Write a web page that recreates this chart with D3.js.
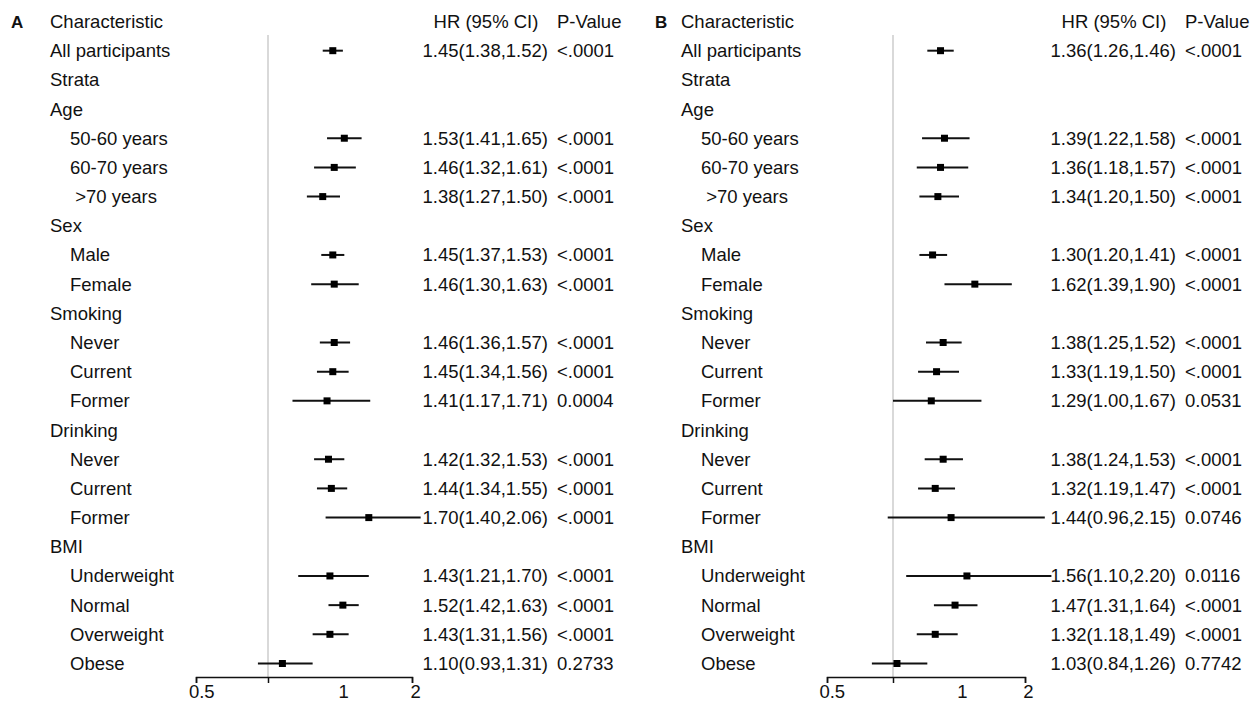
<!DOCTYPE html>
<html>
<head>
<meta charset="utf-8">
<script src="https://cdn.jsdelivr.net/npm/d3@7"></script>
<style>
  body { margin: 0; background: #fff; }
  text { font-family: "Liberation Sans", Arial, sans-serif; font-size: 18.5px; fill: #111; }
</style>
</head>
<body>
<script>
// rows of the table (row 0 is the header)
var rowLabels = ["Characteristic", "All participants", "Strata", "Age", "50-60 years", "60-70 years", " >70 years",
  "Sex", "Male", "Female", "Smoking", "Never", "Current", "Former",
  "Drinking", "Never", "Current", "Former", "BMI", "Underweight", "Normal", "Overweight", "Obese"];
var rowIndent = [0,0,0,0,1,1,1,0,1,1,0,1,1,1,0,1,1,1,0,1,1,1,1];

// panel A
var hrA   = [null,1.45,null,null,1.53,1.46,1.38,null,1.45,1.46,null,1.46,1.45,1.41,null,1.42,1.44,1.70,null,1.43,1.52,1.43,1.10];
var lowA  = [null,1.38,null,null,1.41,1.32,1.27,null,1.37,1.30,null,1.36,1.34,1.17,null,1.32,1.34,1.40,null,1.21,1.42,1.31,0.93];
var highA = [null,1.52,null,null,1.65,1.61,1.50,null,1.53,1.63,null,1.57,1.56,1.71,null,1.53,1.55,2.06,null,1.70,1.63,1.56,1.31];
var pA    = [null,"<.0001",null,null,"<.0001","<.0001","<.0001",null,"<.0001","<.0001",null,"<.0001","<.0001","0.0004",null,"<.0001","<.0001","<.0001",null,"<.0001","<.0001","<.0001","0.2733"];

// panel B
var hrB   = [null,1.36,null,null,1.39,1.36,1.34,null,1.30,1.62,null,1.38,1.33,1.29,null,1.38,1.32,1.44,null,1.56,1.47,1.32,1.03];
var lowB  = [null,1.26,null,null,1.22,1.18,1.20,null,1.20,1.39,null,1.25,1.19,1.00,null,1.24,1.19,0.96,null,1.10,1.31,1.18,0.84];
var highB = [null,1.46,null,null,1.58,1.57,1.50,null,1.41,1.90,null,1.52,1.50,1.67,null,1.53,1.47,2.15,null,2.20,1.64,1.49,1.26];
var pB    = [null,"<.0001",null,null,"<.0001","<.0001","<.0001",null,"<.0001","<.0001",null,"<.0001","<.0001","0.0531",null,"<.0001","<.0001","0.0746",null,"0.0116","<.0001","<.0001","0.7742"];

var tickValues = [0.5, 1, 2];
var tickLabels = ["0.5", "1", "2"];
var tickLabelAt = [0.54, 1.525, 2.025];   // where the original puts the labels

var width = 1256, height = 701;

var svg = d3.select("body").append("svg")
    .attr("width", width)
    .attr("height", height);

var y = d3.scalePoint()
    .domain(d3.range(rowLabels.length))
    .range([21.5, 663.5]);

var axisY = 677;

var fmt = d3.format(".2f");

var drawPanel = function(opt) {
  var g = svg.append("g");
  var x = d3.scaleLinear().domain([0.5, 2]).range(opt.range);

  g.append("text")
      .attr("x", opt.letterX)
      .attr("y", y(0) + 6.5)
      .style("font-weight", "bold")
      .style("font-size", "17px")
      .text(opt.letter);

  g.selectAll("text.label")
      .data(rowLabels)
    .enter().append("text")
      .attr("class", "label")
      .attr("x", function(d, i) { return opt.labelX + (rowIndent[i] ? 20 : 0); })
      .attr("y", function(d, i) { return y(i) + 6.5; })
      .style("white-space", "pre")
      .text(function(d) { return d; });

  // reference line at HR = 1
  g.append("line")
      .attr("x1", x(1)).attr("x2", x(1))
      .attr("y1", 35).attr("y2", axisY)
      .attr("stroke", "#cccccc")
      .attr("stroke-width", 1.5);

  var rows = d3.range(rowLabels.length).filter(function(i) { return opt.hr[i] != null; });

  g.selectAll("line.ci")
      .data(rows)
    .enter().append("line")
      .attr("class", "ci")
      .attr("x1", function(i) { return x(opt.low[i]); })
      .attr("x2", function(i) { return x(opt.high[i]); })
      .attr("y1", function(i) { return y(i); })
      .attr("y2", function(i) { return y(i); })
      .attr("stroke", "#111")
      .attr("stroke-width", 2);

  g.selectAll("rect.pt")
      .data(rows)
    .enter().append("rect")
      .attr("class", "pt")
      .attr("x", function(i) { return x(opt.hr[i]) - 3.5; })
      .attr("y", function(i) { return y(i) - 3.5; })
      .attr("width", 7)
      .attr("height", 7)
      .attr("fill", "#000");

  g.append("text")
      .attr("x", opt.hrEnd - 62)
      .attr("y", y(0) + 6.5)
      .attr("text-anchor", "middle")
      .text("HR (95% CI)");
  g.append("text")
      .attr("x", opt.pX)
      .attr("y", y(0) + 6.5)
      .text("P-Value");

  g.selectAll("text.hr")
      .data(rows)
    .enter().append("text")
      .attr("class", "hr")
      .attr("x", opt.hrEnd)
      .attr("y", function(i) { return y(i) + 6.5; })
      .attr("text-anchor", "end")
      .text(function(i) { return fmt(opt.hr[i]) + "(" + fmt(opt.low[i]) + "," + fmt(opt.high[i]) + ")"; });

  g.selectAll("text.p")
      .data(rows)
    .enter().append("text")
      .attr("class", "p")
      .attr("x", opt.pX)
      .attr("y", function(i) { return y(i) + 6.5; })
      .text(function(i) { return opt.p[i]; });

  // axis
  var ax = g.append("g")
      .attr("transform", "translate(0," + axisY + ")")
      .call(d3.axisBottom(x).tickValues(tickValues).tickFormat("").tickSizeOuter(0).tickSize(6));
  ax.select(".domain").attr("stroke", "#111").attr("stroke-width", 1.5);
  ax.selectAll(".tick line").attr("stroke", "#111").attr("stroke-width", 1.5);

  g.selectAll("text.tl")
      .data(tickLabels)
    .enter().append("text")
      .attr("class", "tl")
      .attr("x", function(d, i) { return x(tickLabelAt[i]); })
      .attr("y", 698)
      .attr("text-anchor", "middle")
      .text(function(d) { return d; });
};

drawPanel({letter: "A", letterX: 11, labelX: 50, range: [196, 412], hrEnd: 548, pX: 557,
  hr: hrA, low: lowA, high: highA, p: pA});
drawPanel({letter: "B", letterX: 655, labelX: 681, range: [827, 1025], hrEnd: 1176, pX: 1185,
  hr: hrB, low: lowB, high: highB, p: pB});
</script>
</body>
</html>
